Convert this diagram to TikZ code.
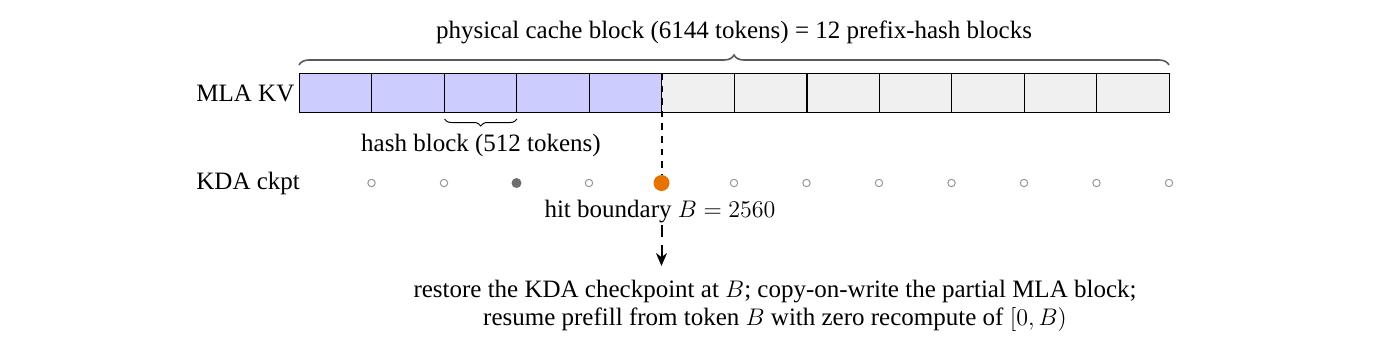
\documentclass[tikz,border=0pt]{standalone}
\usepackage[no-math]{fontspec}
\setmainfont{Liberation Serif}
\usetikzlibrary{decorations.pathreplacing,arrows.meta}
\definecolor{blk}{RGB}{204,204,255}
\definecolor{gry}{RGB}{240,240,240}
\definecolor{hitorange}{RGB}{230,115,0}
\definecolor{ckgray}{RGB}{110,110,110}
\definecolor{opengray}{RGB}{150,150,150}
\begin{document}
\begin{tikzpicture}[x=0.5pt,y=-0.5pt,
  txt/.style={font=\fontsize{12.5}{14}\selectfont, inner sep=0pt},
  cellbox/.style={draw=black, line width=0.5pt, minimum width=36.25pt, minimum height=19.5pt, inner sep=0pt, outer sep=0pt},
  usedcell/.style={cellbox, fill=blk},
  freecell/.style={cellbox, fill=gry},
  opendot/.style={circle, draw=opengray, line width=0.5pt, fill=white, minimum size=3.7pt, inner sep=0pt},
  ckdot/.style={circle, fill=ckgray, minimum size=5pt, inner sep=0pt},
  hitdot/.style={circle, fill=hitorange, minimum size=8pt, inner sep=0pt},
  bigbrace/.style={decorate, decoration={brace, amplitude=5pt}, draw=black!65, line width=0.8pt},
  smallbrace/.style={decorate, decoration={brace, amplitude=3.5pt, mirror}, draw=black, line width=0.5pt}
]
\useasboundingbox (0,0) rectangle (1394,345);
% cells
\foreach \i in {1,...,5} {
  \node[usedcell] (c\i) at ({299+72.5*(\i-0.5)},92.5) {};
}
\foreach \i in {6,...,12} {
  \node[freecell] (c\i) at ({299+72.5*(\i-0.5)},92.5) {};
}
% thicker separator
\draw[line width=1pt] (c7.north east) -- (c7.south east);
% row labels
\node[txt, anchor=west] (mla) at (196,93) {MLA KV};
\node[txt, anchor=west] (kda) at (196,183) {KDA ckpt};
% top brace
\coordinate (tbl) at (299,65);
\coordinate (tbr) at (1169,65);
\draw[bigbrace] (tbl) -- (tbr);
\node[txt] (phys) at (734,32) {physical cache block (6144 tokens) = 12 prefix-hash blocks};
% hash block brace
\coordinate (hbl) at (444.5,119);
\coordinate (hbr) at (517,119);
\draw[smallbrace] (hbl) -- (hbr);
\node[txt] (hash) at (481,145) {hash block (512 tokens)};
% checkpoint dots
\foreach \i in {1,2,4,6,7,8,9,10,11,12} {
  \node[opendot] (d\i) at ({299+72.5*\i},183) {};
}
\node[ckdot] (d3) at ({299+72.5*3},183) {};
% boundary line
\draw[line width=1pt, dash pattern=on 3.3pt off 3pt] (c5.north east) -- (661.5,175);
\node[hitdot] (d5) at (661.5,183) {};
\node[txt] (hit) at (660,212) {hit boundary $B=2560$};
\node[txt, align=center] (rest) at (775,306) {restore the KDA checkpoint at $B$; copy-on-write the partial MLA block;\\resume prefill from token $B$ with zero recompute of $[0,B)$};
\draw[line width=1pt, dash pattern=on 6pt off 4pt on 30pt, -{Stealth[length=6.5pt,width=5.5pt]}] (661.5,225) -- (661.5,266);
\end{tikzpicture}
\end{document}
